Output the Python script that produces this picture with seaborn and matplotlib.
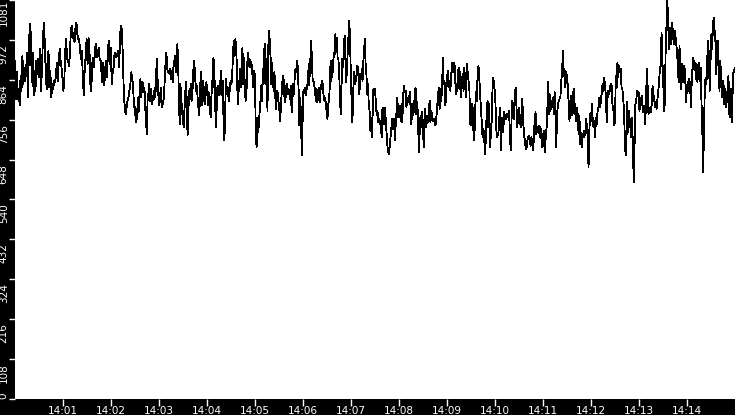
import numpy as np
import pandas as pd
import seaborn as sns
import matplotlib.pyplot as plt
import matplotlib.dates as mdates
import matplotlib.transforms as mtransforms

# ============================================================
# Data: values, six 2.5-minute blocks
# ============================================================
seg1 = [916, 812, 885, 812, 840, 795, 876, 835, 930, 853, 898, 862, 894, 939, 817,
        961, 1015, 988, 858, 939, 822, 889, 835, 916, 880, 921, 871, 948, 835, 898,
        975, 1020, 966, 889, 840, 921, 943, 844, 889, 817, 853, 840, 862, 858, 876,
        912, 862, 912, 948, 916, 898, 871, 835, 862, 943, 975, 921, 916, 903, 930,
        997, 1010, 979, 993, 966, 1006, 1020, 988, 975, 975, 943, 921, 943, 862, 822,
        898, 930, 975, 907, 979, 952, 853, 835, 907, 925, 898, 948, 961, 925, 934,
        952, 921, 916, 885, 858, 912, 849, 898, 916, 871, 952, 970, 907, 952, 853,
        885, 898, 934, 939, 925, 934, 943, 898, 988, 1010, 997, 921, 826, 790,
        772, 790, 808, 817, 835, 853, 885, 871, 844, 790]

seg2 = [790, 750, 786, 759, 817, 781, 840, 867, 817, 853, 858, 831, 844, 790,
        759, 718, 808, 826, 853, 808, 840, 817, 799, 822, 813, 844, 817, 885, 921, 853,
        817, 795, 822, 844, 790, 808, 799, 826, 867, 912, 939, 898, 885, 889, 880,
        894, 867, 889, 858, 898, 912, 930, 885, 925, 961, 916, 808, 745, 853,
        772, 799, 763, 736, 781, 826, 858, 808, 714, 777, 835, 817, 853, 808, 822,
        871, 916, 898, 862, 835, 849, 808, 786, 768, 840, 885, 813, 795, 862, 826,
        799, 831, 858, 835, 795, 831, 826, 772, 763, 862, 844, 925, 898, 826, 736,
        781, 844, 849, 822, 862, 826, 889, 822, 862, 736, 700, 781, 867, 840, 844,
        822, 808, 849, 862, 853, 880, 943, 970, 930, 975, 952, 889, 799, 862, 835,
        894, 844, 898, 952, 853, 925, 844, 808, 817, 903, 939, 903, 921, 898, 912,
        903, 871, 844, 889]

seg3 = [871, 718, 682, 763, 722, 745, 781, 808, 849, 808, 894, 853, 948, 961, 853,
        921, 781, 952, 997, 970, 925, 853, 912, 862, 835, 885, 822, 786, 835, 831,
        808, 795, 754, 781, 822, 858, 876, 862, 804, 849, 817, 853, 826, 840, 835,
        813, 849, 777, 808, 853, 826, 876, 894, 885, 916, 898, 835, 741, 817, 768,
        660, 745, 831, 835, 844, 822, 840, 840, 889, 849, 921, 876, 970, 925, 862,
        862, 849, 840, 808, 840, 804, 822, 844, 804, 835, 849, 862, 853, 822, 808,
        817, 799, 777, 759, 799, 808, 849, 916, 862, 894, 885, 939, 925, 988, 948,
        979, 925, 921, 889, 817, 772, 849, 921, 898, 952, 984, 921, 858, 894, 943,
        984, 1024, 970, 876, 808, 750, 826, 885, 853, 876, 862, 903, 898, 880, 826,
        880, 867, 894, 862, 912, 943, 975, 903, 880, 826, 853, 795, 781, 727, 763,
        709, 772, 840, 835]

seg4 = [840, 804, 768, 781, 750, 759, 745, 754, 709, 786, 790, 745, 790, 754, 722,
        686, 668, 664, 691, 714, 741, 759, 732, 759, 700, 745, 777, 817, 763, 795,
        786, 754, 799, 750, 822, 849, 831, 835, 790, 817, 804, 808, 831, 790, 745,
        799, 768, 781, 826, 844, 772, 804, 759, 668, 722, 768, 736, 777, 722, 682,
        786, 745, 736, 768, 750, 781, 808, 750, 781, 768, 754, 759, 754, 741, 759,
        790, 817, 844, 786, 840, 808, 840, 925, 853, 862, 795, 822, 871, 889, 844,
        862, 835, 871, 912, 885, 894, 912, 862, 826, 840, 867, 898, 840, 885, 817,
        862, 880, 835, 898, 849, 817, 907, 885, 862, 844, 745, 741, 799, 790, 722,
        700, 781, 831, 808, 880, 903, 871, 826, 790, 750, 709, 732, 704, 664, 709,
        781, 808, 736, 799, 682, 718, 754, 840, 871, 844]

seg5 = [835, 772, 709, 722, 714, 750, 790, 673, 732, 763, 722, 777, 768, 759, 768,
        772, 763, 781, 718, 673, 759, 808, 786, 759, 826, 844, 790, 736, 768, 790,
        763, 736, 777, 813, 754, 718, 700, 682, 677, 700, 709, 714, 704, 686, 709,
        695, 673, 709, 759, 777, 718, 736, 722, 741, 709, 736, 709, 682, 709, 727,
        668, 700, 727, 754, 858, 772, 826, 781, 808, 790, 817, 772, 831, 808, 682,
        772, 795, 808, 813, 817, 862, 880, 943, 876, 894, 844, 885, 871, 849, 799,
        754, 808, 822, 768, 817, 840, 772, 799, 754, 790, 768, 718, 768, 691, 722,
        682, 718, 709, 727, 714, 759, 741, 709, 628, 727, 772, 754, 799, 759, 736,
        754, 709, 763, 745, 781, 790, 817, 790, 808, 831, 853, 835, 871, 844, 822,
        750, 817, 835, 826, 844, 853, 849, 795, 786, 741]

seg6 = [754, 876, 844, 912, 871, 903, 885, 894, 844, 840, 817, 781, 709, 660, 695,
        804, 722, 781, 736, 759, 709, 763, 668, 588, 691, 799, 808, 835, 822, 831,
        781, 817, 799, 822, 777, 795, 790, 745, 808, 894, 844, 772, 781, 790, 777,
        799, 849, 808, 822, 790, 804, 786, 813, 835, 858, 898, 903, 993, 916, 871,
        781, 799, 939, 1010, 1078, 1038, 948, 1006, 988, 961, 1020, 988, 961, 997, 984,
        961, 943, 898, 858, 957, 889, 840, 907, 858, 867, 903, 871, 804, 840, 858,
        835, 867, 849, 790, 862, 898, 925, 894, 912, 867, 907, 858, 898, 912, 862,
        898, 799, 727, 614, 736, 844, 871, 853, 921, 970, 930, 835, 916, 988, 948,
        1015, 1033, 970, 997, 880, 934, 970, 894, 835, 916, 871, 817, 862, 849, 799,
        840, 790, 808, 844, 876, 772, 763, 840, 750, 826, 885, 889, 898]

segments = [seg1, seg2, seg3, seg4, seg5, seg6]
seg_seconds = 150

y_ticks = np.linspace(0, 1081, 11)
y_tick_labels = ['0', '108', '216', '324', '432', '540', '648', '756', '864', '972', '1081']

# build time axis: each block is spread evenly over its 2.5 minutes
start = pd.Timestamp('2024-01-01 14:00:00')
times, values = [], []
for k, seg in enumerate(segments):
    last = k == len(segments) - 1
    secs = np.linspace(k * seg_seconds, (k + 1) * seg_seconds, len(seg), endpoint=last)
    times.extend(start + pd.to_timedelta(secs, unit='s'))
    values.extend(seg)
df = pd.DataFrame({'time': times, 'value': values})

# ============================================================
# Plot
# ============================================================
fig = plt.figure(figsize=(7.35, 4.15), dpi=100, facecolor='black')
ax = fig.add_axes([15 / 735, 16 / 415, 720 / 735, 399 / 415])
ax.set_facecolor('white')

sns.lineplot(data=df, x='time', y='value', ax=ax, color='black',
             linewidth=0.6, antialiased=False)

ax.set_xlim(start, start + pd.Timedelta(minutes=15))
ax.set_ylim(0, 1081)
ax.set_xlabel('')
ax.set_ylabel('')
for s in ax.spines.values():
    s.set_visible(False)

ax.xaxis.set_major_locator(mdates.MinuteLocator(byminute=range(1, 15)))
ax.xaxis.set_major_formatter(mdates.DateFormatter('%H:%M'))
ax.set_yticks(y_ticks)
ax.set_yticklabels(y_tick_labels)

ax.tick_params(axis='x', colors='white', length=5, width=1, pad=0, labelsize=7.5)
ax.tick_params(axis='y', colors='white', length=4, width=1, pad=0.5, labelsize=7.5)

# y labels rotated and hung just below their tick
shift = mtransforms.ScaledTranslation(0, -3 / 72, fig.dpi_scale_trans)
for i, lab in enumerate(ax.get_yticklabels()):
    lab.set_rotation(90)
    if i == 0:
        lab.set_va('bottom')
    else:
        lab.set_va('top')
        if i < len(y_tick_labels) - 1:
            lab.set_transform(lab.get_transform() + shift)

fig.savefig('out.png', dpi=100, facecolor='black')
